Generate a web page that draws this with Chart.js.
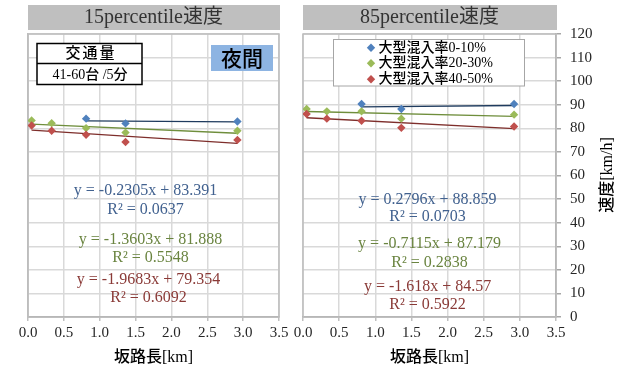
<!DOCTYPE html>
<html>
<head>
<meta charset="utf-8">
<script src="https://cdn.jsdelivr.net/npm/chart.js@4.4.1/dist/chart.umd.min.js"></script>
<style>
  html, body { margin: 0; padding: 0; background: #fff; }
  #wrap { position: relative; width: 625px; height: 369px; overflow: hidden; background: #fff; }
  canvas { position: absolute; top: 0; }
  #c15 { left: 0; }
  #c85 { left: 285px; }
</style>
</head>
<body>
<div id="wrap">
  <canvas id="c15" width="300" height="369"></canvas>
  <canvas id="c85" width="340" height="369"></canvas>
</div>
<script>
// ---- data ----
const seriesNames = ['大型混入率0-10%', '大型混入率20-30%', '大型混入率40-50%'];
const panelTitles = ['15percentile速度', '85percentile速度'];
const xTitle = '坂路長[km]';
const yTitle = '速度[km/h]';
const trafficLabel = '交通量';
const trafficValue = '41-60台 /5分';
const periodLabel = '夜間';

// slope length [km] of each observation point
const lenBlue = [0.81, 1.36, 2.92];
const lenAll = [0.05, 0.33, 0.81, 1.36, 2.92];

// 15 percentile speed [km/h]
const p15Blue = [84.1, 82.1, 82.9];
const p15Green = [83.3, 82.2, 80.1, 78.2, 79.0];
const p15Red = [81.2, 79.0, 77.3, 74.2, 75.1];
// 85 percentile speed [km/h]
const p85Blue = [90.3, 88.2, 90.3];
const p85Green = [88.2, 87.2, 87.2, 84.1, 85.8];
const p85Red = [86.1, 84.1, 83.2, 80.2, 80.8];

// linear trend lines (y = a x + b) and R²
const p15Slope = [-0.2305, -1.3603, -1.9683];
const p15Intercept = [83.391, 81.888, 79.354];
const p15R2 = [0.0637, 0.5548, 0.6092];
const p85Slope = [0.2796, -0.7115, -1.618];
const p85Intercept = [88.859, 87.179, 84.57];
const p85R2 = [0.0703, 0.2838, 0.5922];

const xMin = 0, xMax = 3.5, xStep = 0.5;
const yMin = 0, yMax = 120, yStep = 10;

// ---- styling ----
const markerColors = ['#4F81BD', '#9BBB59', '#C0504D'];
const trendColors = ['#1F3B5E', '#6F8E3C', '#7E2E2B'];
const eqColors = ['#41618F', '#6A8440', '#8A3A37'];
const SERIF = '"Liberation Serif", "Noto Sans CJK JP"';
const GRID = '#D9D9D9';
const AXIS = '#A6A6A6';
const TEXT = '#262626';

function pts(xs, ys) { return xs.map((x, i) => ({ x: x, y: ys[i] })); }
function trend(xs, a, b) {
  const lo = Math.min(...xs), hi = Math.max(...xs);
  return [{ x: lo, y: a * lo + b }, { x: hi, y: a * hi + b }];
}

function buildDatasets(ys, slopes, intercepts) {
  const xsList = [lenBlue, lenAll, lenAll];
  const ds = [];
  // markers (red drawn on top, then green, then blue)
  for (let i = 0; i < 3; i++) {
    ds.push({
      type: 'scatter', label: seriesNames[i], data: pts(xsList[i], ys[i]),
      pointStyle: 'rectRot', pointRadius: 4.2, pointHoverRadius: 4.2,
      backgroundColor: markerColors[i], borderColor: markerColors[i], borderWidth: 0,
      showLine: false, order: 2 - i
    });
  }
  // trend lines under the markers
  for (let i = 0; i < 3; i++) {
    ds.push({
      type: 'line', label: seriesNames[i] + ' trend',
      data: trend(xsList[i], slopes[i], intercepts[i]),
      borderColor: trendColors[i], borderWidth: 1.3, pointRadius: 0,
      fill: false, order: 10 + i
    });
  }
  return ds;
}

function drawText(ctx, txt, x, y, font, color, align) {
  ctx.save();
  ctx.font = font;
  ctx.fillStyle = color;
  ctx.textAlign = align || 'center';
  ctx.textBaseline = 'middle';
  ctx.fillText(txt, x, y);
  ctx.restore();
}

function panelPlugin(opts) {
  return {
    id: 'panel' + opts.idx,
    beforeDatasetsDraw(chart) {
      const { ctx, chartArea: a } = chart;
      ctx.save();
      ctx.strokeStyle = '#BDBDBD';
      ctx.lineWidth = 1.5;
      ctx.strokeRect(a.left, a.top, a.right - a.left, a.bottom - a.top);
      ctx.restore();
    },
    afterDraw(chart) {
      const { ctx, chartArea: a } = chart;
      const off = opts.offset;
      // header bar
      ctx.save();
      ctx.fillStyle = '#BFBFBF';
      ctx.fillRect(a.left, 5, a.right - a.left + 1, 25);
      ctx.restore();
      drawText(ctx, opts.title, (a.left + a.right) / 2, 18, '20px ' + SERIF, '#333333');
      // trend line equations
      for (let i = 0; i < 3; i++) {
        const s = opts.slopes[i], b = opts.intercepts[i];
        const eq = 'y = ' + s + 'x + ' + b;
        const r2 = 'R² = ' + opts.r2[i];
        drawText(ctx, eq, opts.eqX[i] - off, opts.eqY[i], '16px ' + SERIF, eqColors[i]);
        drawText(ctx, r2, opts.eqX[i] - off, opts.r2Y[i], '16px ' + SERIF, eqColors[i]);
      }
      if (opts.extra) opts.extra(ctx, off);
    }
  };
}

function leftExtras(ctx, off) {
  // traffic volume box
  ctx.save();
  ctx.fillStyle = '#fff';
  ctx.fillRect(37 - off, 43.5, 105, 41);
  ctx.strokeStyle = '#000';
  ctx.lineWidth = 1.5;
  ctx.strokeRect(37 - off, 43.5, 105, 41);
  ctx.beginPath();
  ctx.moveTo(37 - off, 63.5);
  ctx.lineTo(142 - off, 63.5);
  ctx.stroke();
  ctx.restore();
  ctx.save();
  ctx.font = '500 15px ' + SERIF;
  ctx.letterSpacing = '2px';
  ctx.fillStyle = '#000';
  ctx.textAlign = 'center';
  ctx.textBaseline = 'middle';
  ctx.fillText(trafficLabel, 91 - off, 54.5);
  ctx.restore();
  drawText(ctx, trafficValue, 90 - off, 75, '500 14px ' + SERIF, '#000');
  // night label
  ctx.save();
  ctx.fillStyle = '#8DB4E2';
  ctx.fillRect(211 - off, 45, 62, 26);
  ctx.restore();
  drawText(ctx, periodLabel, 242 - off, 58.5, '500 21px "Noto Sans CJK JP"', '#000');
}

function rightExtras(ctx, off) {
  // legend
  ctx.save();
  ctx.fillStyle = '#fff';
  ctx.fillRect(333.5 - off, 39.5, 191, 46.5);
  ctx.strokeStyle = '#A6A6A6';
  ctx.lineWidth = 1;
  ctx.strokeRect(333.5 - off, 39.5, 191, 46.5);
  ctx.restore();
  const rows = [47.8, 63.3, 79.2];
  for (let i = 0; i < 3; i++) {
    const cx = 371 - off, cy = rows[i];
    ctx.save();
    ctx.fillStyle = markerColors[i];
    ctx.beginPath();
    ctx.moveTo(cx, cy - 4.2); ctx.lineTo(cx + 4.2, cy); ctx.lineTo(cx, cy + 4.2); ctx.lineTo(cx - 4.2, cy);
    ctx.closePath();
    ctx.fill();
    ctx.restore();
    drawText(ctx, seriesNames[i], 378.5 - off, cy + 0.5, '500 14px ' + SERIF, '#000', 'left');
  }
  // y axis title, reading bottom to top
  ctx.save();
  ctx.translate(608 - off, 175);
  ctx.rotate(-Math.PI / 2);
  ctx.font = '500 16px ' + SERIF;
  ctx.fillStyle = '#000';
  ctx.textAlign = 'center';
  ctx.textBaseline = 'middle';
  ctx.fillText(yTitle, 0, 0);
  ctx.restore();
}

function xScale() {
  return {
    type: 'linear', min: xMin, max: xMax,
    ticks: {
      stepSize: xStep, color: TEXT, padding: 3,
      font: { family: SERIF, size: 15 },
      callback: v => Number(v).toFixed(1)
    },
    grid: { color: GRID, lineWidth: 1.5, drawTicks: true, tickLength: 4, tickColor: '#BFBFBF' },
    border: { display: true, color: AXIS, width: 1.5 },
    title: { display: true, text: xTitle, color: '#000', font: { family: SERIF, size: 16, weight: 500 }, padding: { top: 0, bottom: 2 } },
    afterFit(s) { s.height = 52; }
  };
}

function makeChart(id, ys, slopes, intercepts, r2, isRight) {
  const off = isRight ? 285 : 0;
  const yScale = {
    type: 'linear', min: yMin, max: yMax,
    position: isRight ? 'right' : 'left',
    ticks: isRight
      ? { stepSize: yStep, color: TEXT, padding: 9, font: { family: SERIF, size: 15 } }
      : { stepSize: yStep, display: false },
    grid: { color: GRID, lineWidth: 1.5, drawTicks: isRight, tickLength: 5, tickColor: AXIS },
    border: { display: true, color: isRight ? AXIS : '#BDBDBD', width: 1.5 },
    afterFit(s) { s.width = isRight ? 69 : 0; }
  };
  return new Chart(document.getElementById(id), {
    data: { datasets: buildDatasets(ys, slopes, intercepts) },
    options: {
      responsive: false, animation: false, devicePixelRatio: 1,
      layout: { padding: isRight ? { top: 34, left: 18, right: 0, bottom: 0 } : { top: 34, left: 28, right: 21, bottom: 0 } },
      plugins: { legend: { display: false }, tooltip: { enabled: false } },
      scales: { x: xScale(), y: yScale }
    },
    plugins: [panelPlugin({
      idx: isRight ? 1 : 0, offset: off,
      title: panelTitles[isRight ? 1 : 0],
      slopes: slopes, intercepts: intercepts, r2: r2,
      eqX: isRight ? [427.5, 429.5, 427.6] : [145.5, 150.5, 148.5],
      eqY: isRight ? [199.3, 243.3, 286.7] : [191, 239.3, 280],
      r2Y: isRight ? [216.7, 262.7, 304.3] : [209.3, 257.3, 297.7],
      extra: isRight ? rightExtras : leftExtras
    })]
  });
}

makeChart('c15', [p15Blue, p15Green, p15Red], p15Slope, p15Intercept, p15R2, false);
makeChart('c85', [p85Blue, p85Green, p85Red], p85Slope, p85Intercept, p85R2, true);
</script>
</body>
</html>
